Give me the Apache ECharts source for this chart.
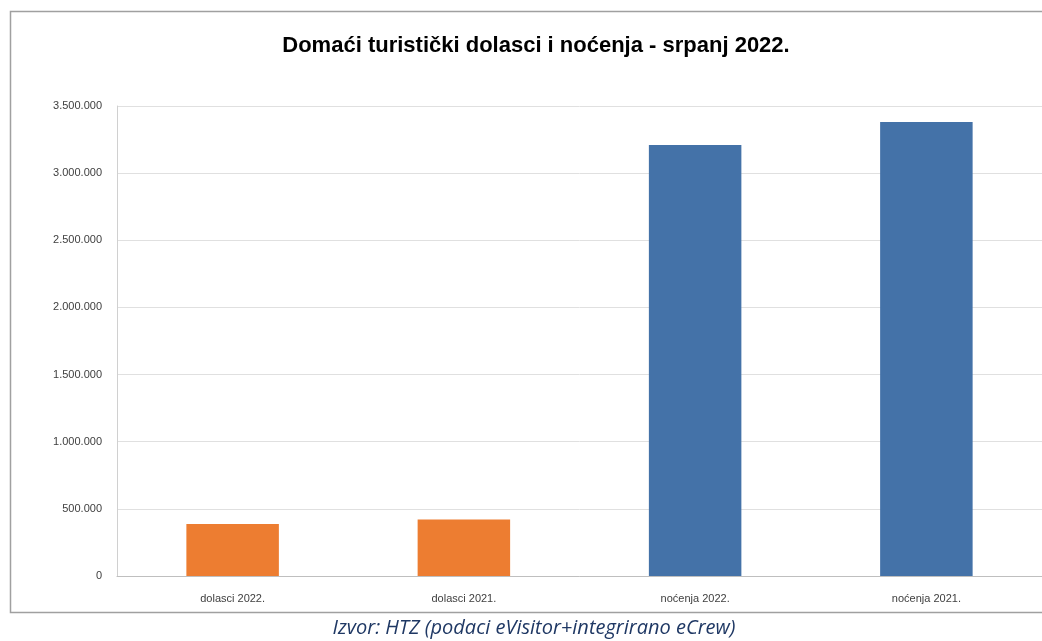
<!DOCTYPE html>
<html>
<head>
<meta charset="utf-8">
<script src="https://cdn.jsdelivr.net/npm/echarts@6/dist/echarts.min.js"></script>
<style>
html,body{margin:0;padding:0;background:#fff;}
#c{width:1042px;height:641px;}
</style>
</head>
<body>
<div id="c"></div>
<script>
const categories = ['dolasci 2022.', 'dolasci 2021.', 'noćenja 2022.', 'noćenja 2021.'];
const values = [387000, 421000, 3210000, 3380000];
const barColors = ['#ED7D31', '#ED7D31', '#4472A8', '#4472A8'];
const titleText = 'Domaći turistički dolasci i noćenja - srpanj 2022.';
const sourceText = 'Izvor: HTZ (podaci eVisitor+integrirano eCrew)';

function fmt(v){
  return String(Math.round(v)).replace(/\B(?=(\d{3})+(?!\d))/g, '.');
}

const chart = echarts.init(document.getElementById('c'), null, {renderer:'canvas'});
chart.setOption({
  animation:false,
  backgroundColor:'#fff',
  title:{
    text:titleText,
    left:531, top:30, textAlign:'center',
    textStyle:{fontFamily:'Liberation Sans', fontWeight:'bold', fontSize:22, color:'#000'}
  },
  graphic:[
    {type:'polyline', shape:{points:[[1050,11.5],[10.5,11.5],[10.5,612.5],[1050,612.5]]},
     style:{stroke:'#a0a0a0', lineWidth:1.5, fill:null}, silent:true},
    {type:'text', x:534, y:618,
     style:{text:sourceText, font:'italic 20px "Open Sans"', fill:'#1F3864', align:'center'}}
  ],
  grid:{left:117, right:-3, top:106, bottom:65, containLabel:false},
  xAxis:{
    type:'category', data:categories,
    axisLine:{lineStyle:{color:'#bfbfbf', width:1}},
    axisTick:{show:false},
    axisLabel:{color:'#404040', fontFamily:'Liberation Sans', fontSize:11, margin:17}
  },
  yAxis:{
    type:'value', min:0, max:3500000, interval:500000,
    axisLine:{show:true, lineStyle:{color:'#d0d0d0'}},
    axisTick:{show:false},
    splitLine:{lineStyle:{color:'#e0e0e0', width:1}},
    axisLabel:{color:'#404040', fontFamily:'Liberation Sans', fontSize:11, margin:15, formatter:fmt}
  },
  series:[{
    type:'bar', barWidth:'40%',
    data: values.map((v,i)=>({value:v, itemStyle:{color:barColors[i]}}))
  }]
});
</script>
</body>
</html>
